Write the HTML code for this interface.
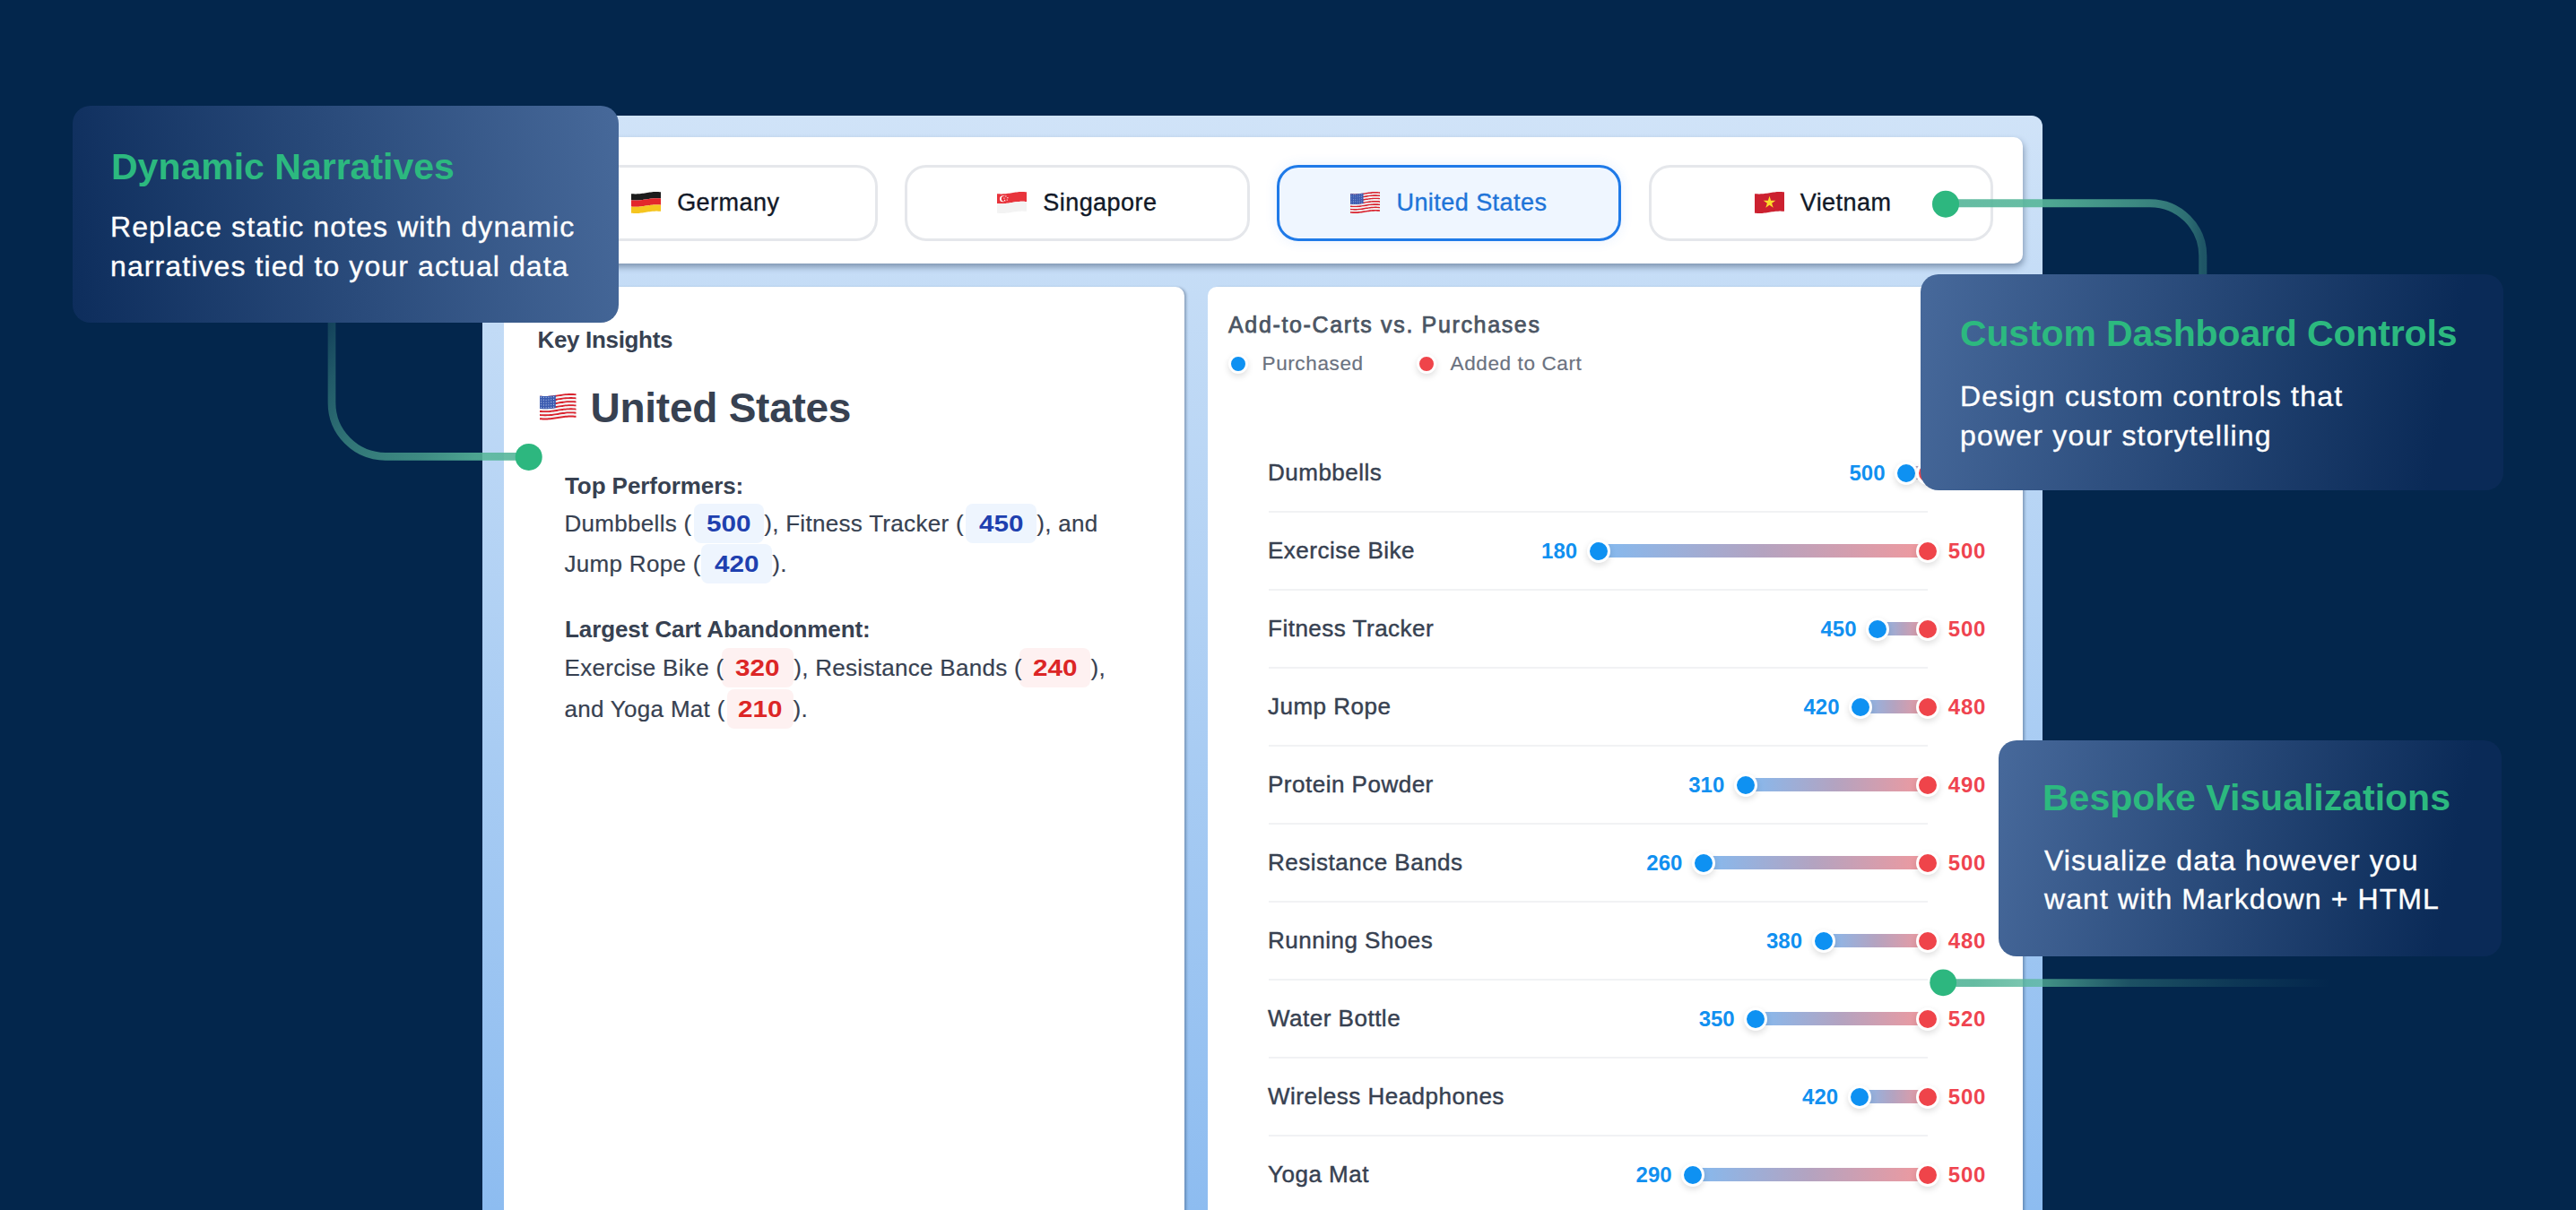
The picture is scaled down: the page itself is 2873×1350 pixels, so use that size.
<!DOCTYPE html><html><head><meta charset="utf-8"><style>
*{box-sizing:border-box;margin:0;padding:0}
html,body{width:2873px;height:1350px;overflow:hidden;background:#03264c;font-family:"Liberation Sans",sans-serif}
.a{position:absolute;white-space:nowrap}
#frame{left:538px;top:129px;width:1740px;height:1300px;border-radius:12px;background:linear-gradient(180deg,#d0e3f8 0px,#c4dcf6 200px,#8dbcf0 1221px)}
#card{left:561px;top:153.3px;width:1695px;height:141px;background:#fff;border-radius:10px;box-shadow:1px 4px 7px rgba(30,50,80,.42)}
.tab{position:absolute;top:184px;height:85px;border:3.5px solid #e5e7eb;border-radius:24px;background:#fff;font-size:27px;color:#111827;letter-spacing:.45px;-webkit-text-stroke:.35px currentColor;display:flex;align-items:center;justify-content:center;white-space:nowrap}
.tab.sel{border-color:#1f7ae8;background:#eff6ff;color:#1f74d8;box-shadow:0 0 14px rgba(59,130,246,.12)}
.tab svg{margin-right:18px;margin-top:-2px}
.pan{background:#fff;border-radius:10px;box-shadow:3px 0 3px -1px rgba(30,50,80,.35)}
.call{position:absolute;border-radius:20px}
.call h2{position:absolute;font-weight:bold;font-size:41px;color:#2cb97f;white-space:nowrap;line-height:50px}
.call p{position:absolute;font-size:32px;color:#fff;line-height:43.5px;white-space:nowrap;-webkit-text-stroke:.35px #fff}
.kt{font-size:26px;color:#374151;line-height:30px}
.pill{position:absolute;height:44px;border-radius:8px;font-weight:bold;font-size:26px;line-height:44px;text-align:center}.pill span{display:inline-block;transform:scaleX(1.14)}
.pb{background:#eef5fe;color:#1e40af}
.pr{background:#fef1f1;color:#dc2626}
.lbl{font-size:26px;color:#374151;line-height:30px}
.div{position:absolute;left:1415px;width:735px;height:2px;background:#f1f2f4}
.bar{position:absolute;height:15px;background:linear-gradient(90deg,#84baf0,#b4a3c0 50%,#f0999e)}
.dot{position:absolute;width:26px;height:26px;border-radius:50%;border:3.5px solid #fff;box-shadow:0 3px 7px rgba(0,0,0,.13)}
.db{background:#0e91f2}.dr{background:#ef444a}
.nb{font-size:24px;font-weight:bold;color:#1190f0;line-height:28px}
.nr{font-size:24px;font-weight:bold;color:#ef4450;line-height:28px;letter-spacing:.8px}
</style></head><body>
<div id="frame" class="a"></div>
<div id="card" class="a"></div>
<div class="tab" style="left:594.5px;width:384.5px;"><svg width="33" height="24" viewBox="0 0 33 24" style="display:block"><path d="M0.00 2.14 L1.38 2.26 L2.75 2.35 L4.12 2.39 L5.50 2.40 L6.88 2.36 L8.25 2.28 L9.62 2.17 L11.00 2.02 L12.38 1.84 L13.75 1.64 L15.12 1.42 L16.50 1.20 L17.88 0.98 L19.25 0.76 L20.62 0.56 L22.00 0.38 L23.38 0.23 L24.75 0.12 L26.12 0.04 L27.50 0.00 L28.88 0.01 L30.25 0.05 L31.62 0.14 L33.00 0.26 L33.00 7.46 L31.62 7.34 L30.25 7.25 L28.88 7.21 L27.50 7.20 L26.12 7.24 L24.75 7.32 L23.38 7.43 L22.00 7.58 L20.62 7.76 L19.25 7.96 L17.88 8.18 L16.50 8.40 L15.12 8.62 L13.75 8.84 L12.38 9.04 L11.00 9.22 L9.62 9.37 L8.25 9.48 L6.88 9.56 L5.50 9.60 L4.12 9.59 L2.75 9.55 L1.38 9.46 L0.00 9.34Z" fill="#1c1c1c"/><path d="M0.00 9.34 L1.38 9.46 L2.75 9.55 L4.12 9.59 L5.50 9.60 L6.88 9.56 L8.25 9.48 L9.62 9.37 L11.00 9.22 L12.38 9.04 L13.75 8.84 L15.12 8.62 L16.50 8.40 L17.88 8.18 L19.25 7.96 L20.62 7.76 L22.00 7.58 L23.38 7.43 L24.75 7.32 L26.12 7.24 L27.50 7.20 L28.88 7.21 L30.25 7.25 L31.62 7.34 L33.00 7.46 L33.00 14.66 L31.62 14.54 L30.25 14.45 L28.88 14.41 L27.50 14.40 L26.12 14.44 L24.75 14.52 L23.38 14.63 L22.00 14.78 L20.62 14.96 L19.25 15.16 L17.88 15.38 L16.50 15.60 L15.12 15.82 L13.75 16.04 L12.38 16.24 L11.00 16.42 L9.62 16.57 L8.25 16.68 L6.88 16.76 L5.50 16.80 L4.12 16.79 L2.75 16.75 L1.38 16.66 L0.00 16.54Z" fill="#e3262b"/><path d="M0.00 16.54 L1.38 16.66 L2.75 16.75 L4.12 16.79 L5.50 16.80 L6.88 16.76 L8.25 16.68 L9.62 16.57 L11.00 16.42 L12.38 16.24 L13.75 16.04 L15.12 15.82 L16.50 15.60 L17.88 15.38 L19.25 15.16 L20.62 14.96 L22.00 14.78 L23.38 14.63 L24.75 14.52 L26.12 14.44 L27.50 14.40 L28.88 14.41 L30.25 14.45 L31.62 14.54 L33.00 14.66 L33.00 21.86 L31.62 21.74 L30.25 21.65 L28.88 21.61 L27.50 21.60 L26.12 21.64 L24.75 21.72 L23.38 21.83 L22.00 21.98 L20.62 22.16 L19.25 22.36 L17.88 22.58 L16.50 22.80 L15.12 23.02 L13.75 23.24 L12.38 23.44 L11.00 23.62 L9.62 23.77 L8.25 23.88 L6.88 23.96 L5.50 24.00 L4.12 23.99 L2.75 23.95 L1.38 23.86 L0.00 23.74Z" fill="#f5c51f"/></svg><span>Germany</span></div>
<div class="tab" style="left:1009.1px;width:384.5px;"><svg width="33" height="24" viewBox="0 0 33 24" style="display:block"><path d="M0.00 2.14 L1.38 2.26 L2.75 2.35 L4.12 2.39 L5.50 2.40 L6.88 2.36 L8.25 2.28 L9.62 2.17 L11.00 2.02 L12.38 1.84 L13.75 1.64 L15.12 1.42 L16.50 1.20 L17.88 0.98 L19.25 0.76 L20.62 0.56 L22.00 0.38 L23.38 0.23 L24.75 0.12 L26.12 0.04 L27.50 0.00 L28.88 0.01 L30.25 0.05 L31.62 0.14 L33.00 0.26 L33.00 11.06 L31.62 10.94 L30.25 10.85 L28.88 10.81 L27.50 10.80 L26.12 10.84 L24.75 10.92 L23.38 11.03 L22.00 11.18 L20.62 11.36 L19.25 11.56 L17.88 11.78 L16.50 12.00 L15.12 12.22 L13.75 12.44 L12.38 12.64 L11.00 12.82 L9.62 12.97 L8.25 13.08 L6.88 13.16 L5.50 13.20 L4.12 13.19 L2.75 13.15 L1.38 13.06 L0.00 12.94Z" fill="#e8343c"/><path d="M0.00 12.94 L1.38 13.06 L2.75 13.15 L4.12 13.19 L5.50 13.20 L6.88 13.16 L8.25 13.08 L9.62 12.97 L11.00 12.82 L12.38 12.64 L13.75 12.44 L15.12 12.22 L16.50 12.00 L17.88 11.78 L19.25 11.56 L20.62 11.36 L22.00 11.18 L23.38 11.03 L24.75 10.92 L26.12 10.84 L27.50 10.80 L28.88 10.81 L30.25 10.85 L31.62 10.94 L33.00 11.06 L33.00 21.86 L31.62 21.74 L30.25 21.65 L28.88 21.61 L27.50 21.60 L26.12 21.64 L24.75 21.72 L23.38 21.83 L22.00 21.98 L20.62 22.16 L19.25 22.36 L17.88 22.58 L16.50 22.80 L15.12 23.02 L13.75 23.24 L12.38 23.44 L11.00 23.62 L9.62 23.77 L8.25 23.88 L6.88 23.96 L5.50 24.00 L4.12 23.99 L2.75 23.95 L1.38 23.86 L0.00 23.74Z" fill="#f3f3f3"/><circle cx="6.60" cy="7.77" r="3.60" fill="#fff"/><circle cx="7.86" cy="7.77" r="3.06" fill="#e8343c"/><circle cx="9.90" cy="4.95" r="0.67" fill="#fff"/><circle cx="11.88" cy="6.66" r="0.67" fill="#fff"/><circle cx="11.22" cy="9.12" r="0.67" fill="#fff"/><circle cx="8.58" cy="9.38" r="0.67" fill="#fff"/><circle cx="7.92" cy="7.06" r="0.67" fill="#fff"/></svg><span>Singapore</span></div>
<div class="tab sel" style="left:1423.7px;width:384.5px;"><svg width="33" height="24" viewBox="0 0 33 24" style="display:block"><path d="M0.00 2.14 L1.38 2.26 L2.75 2.35 L4.12 2.39 L5.50 2.40 L6.88 2.36 L8.25 2.28 L9.62 2.17 L11.00 2.02 L12.38 1.84 L13.75 1.64 L15.12 1.42 L16.50 1.20 L17.88 0.98 L19.25 0.76 L20.62 0.56 L22.00 0.38 L23.38 0.23 L24.75 0.12 L26.12 0.04 L27.50 0.00 L28.88 0.01 L30.25 0.05 L31.62 0.14 L33.00 0.26 L33.00 1.92 L31.62 1.80 L30.25 1.71 L28.88 1.67 L27.50 1.66 L26.12 1.70 L24.75 1.78 L23.38 1.90 L22.00 2.05 L20.62 2.22 L19.25 2.42 L17.88 2.64 L16.50 2.86 L15.12 3.08 L13.75 3.30 L12.38 3.50 L11.00 3.68 L9.62 3.83 L8.25 3.94 L6.88 4.02 L5.50 4.06 L4.12 4.05 L2.75 4.01 L1.38 3.92 L0.00 3.80Z" fill="#d9232e"/><path d="M0.00 3.80 L1.38 3.92 L2.75 4.01 L4.12 4.05 L5.50 4.06 L6.88 4.02 L8.25 3.94 L9.62 3.83 L11.00 3.68 L12.38 3.50 L13.75 3.30 L15.12 3.08 L16.50 2.86 L17.88 2.64 L19.25 2.42 L20.62 2.22 L22.00 2.05 L23.38 1.90 L24.75 1.78 L26.12 1.70 L27.50 1.66 L28.88 1.67 L30.25 1.71 L31.62 1.80 L33.00 1.92 L33.00 3.58 L31.62 3.46 L30.25 3.38 L28.88 3.33 L27.50 3.33 L26.12 3.36 L24.75 3.44 L23.38 3.56 L22.00 3.71 L20.62 3.88 L19.25 4.08 L17.88 4.30 L16.50 4.52 L15.12 4.75 L13.75 4.96 L12.38 5.16 L11.00 5.34 L9.62 5.49 L8.25 5.60 L6.88 5.68 L5.50 5.72 L4.12 5.72 L2.75 5.67 L1.38 5.58 L0.00 5.46Z" fill="#f4f6f6"/><path d="M0.00 5.46 L1.38 5.58 L2.75 5.67 L4.12 5.72 L5.50 5.72 L6.88 5.68 L8.25 5.60 L9.62 5.49 L11.00 5.34 L12.38 5.16 L13.75 4.96 L15.12 4.75 L16.50 4.52 L17.88 4.30 L19.25 4.08 L20.62 3.88 L22.00 3.71 L23.38 3.56 L24.75 3.44 L26.12 3.36 L27.50 3.33 L28.88 3.33 L30.25 3.38 L31.62 3.46 L33.00 3.58 L33.00 5.25 L31.62 5.12 L30.25 5.04 L28.88 4.99 L27.50 4.99 L26.12 5.03 L24.75 5.10 L23.38 5.22 L22.00 5.37 L20.62 5.55 L19.25 5.75 L17.88 5.96 L16.50 6.18 L15.12 6.41 L13.75 6.62 L12.38 6.82 L11.00 7.00 L9.62 7.15 L8.25 7.27 L6.88 7.34 L5.50 7.38 L4.12 7.38 L2.75 7.33 L1.38 7.25 L0.00 7.12Z" fill="#d9232e"/><path d="M0.00 7.12 L1.38 7.25 L2.75 7.33 L4.12 7.38 L5.50 7.38 L6.88 7.34 L8.25 7.27 L9.62 7.15 L11.00 7.00 L12.38 6.82 L13.75 6.62 L15.12 6.41 L16.50 6.18 L17.88 5.96 L19.25 5.75 L20.62 5.55 L22.00 5.37 L23.38 5.22 L24.75 5.10 L26.12 5.03 L27.50 4.99 L28.88 4.99 L30.25 5.04 L31.62 5.12 L33.00 5.25 L33.00 6.91 L31.62 6.79 L30.25 6.70 L28.88 6.65 L27.50 6.65 L26.12 6.69 L24.75 6.76 L23.38 6.88 L22.00 7.03 L20.62 7.21 L19.25 7.41 L17.88 7.62 L16.50 7.85 L15.12 8.07 L13.75 8.28 L12.38 8.48 L11.00 8.66 L9.62 8.81 L8.25 8.93 L6.88 9.01 L5.50 9.04 L4.12 9.04 L2.75 8.99 L1.38 8.91 L0.00 8.78Z" fill="#f4f6f6"/><path d="M0.00 8.78 L1.38 8.91 L2.75 8.99 L4.12 9.04 L5.50 9.04 L6.88 9.01 L8.25 8.93 L9.62 8.81 L11.00 8.66 L12.38 8.48 L13.75 8.28 L15.12 8.07 L16.50 7.85 L17.88 7.62 L19.25 7.41 L20.62 7.21 L22.00 7.03 L23.38 6.88 L24.75 6.76 L26.12 6.69 L27.50 6.65 L28.88 6.65 L30.25 6.70 L31.62 6.79 L33.00 6.91 L33.00 8.57 L31.62 8.45 L30.25 8.36 L28.88 8.32 L27.50 8.31 L26.12 8.35 L24.75 8.43 L23.38 8.54 L22.00 8.69 L20.62 8.87 L19.25 9.07 L17.88 9.28 L16.50 9.51 L15.12 9.73 L13.75 9.95 L12.38 10.15 L11.00 10.32 L9.62 10.47 L8.25 10.59 L6.88 10.67 L5.50 10.70 L4.12 10.70 L2.75 10.65 L1.38 10.57 L0.00 10.45Z" fill="#d9232e"/><path d="M0.00 10.45 L1.38 10.57 L2.75 10.65 L4.12 10.70 L5.50 10.70 L6.88 10.67 L8.25 10.59 L9.62 10.47 L11.00 10.32 L12.38 10.15 L13.75 9.95 L15.12 9.73 L16.50 9.51 L17.88 9.28 L19.25 9.07 L20.62 8.87 L22.00 8.69 L23.38 8.54 L24.75 8.43 L26.12 8.35 L27.50 8.31 L28.88 8.32 L30.25 8.36 L31.62 8.45 L33.00 8.57 L33.00 10.23 L31.62 10.11 L30.25 10.02 L28.88 9.98 L27.50 9.97 L26.12 10.01 L24.75 10.09 L23.38 10.20 L22.00 10.35 L20.62 10.53 L19.25 10.73 L17.88 10.95 L16.50 11.17 L15.12 11.39 L13.75 11.61 L12.38 11.81 L11.00 11.99 L9.62 12.13 L8.25 12.25 L6.88 12.33 L5.50 12.37 L4.12 12.36 L2.75 12.32 L1.38 12.23 L0.00 12.11Z" fill="#f4f6f6"/><path d="M0.00 12.11 L1.38 12.23 L2.75 12.32 L4.12 12.36 L5.50 12.37 L6.88 12.33 L8.25 12.25 L9.62 12.13 L11.00 11.99 L12.38 11.81 L13.75 11.61 L15.12 11.39 L16.50 11.17 L17.88 10.95 L19.25 10.73 L20.62 10.53 L22.00 10.35 L23.38 10.20 L24.75 10.09 L26.12 10.01 L27.50 9.97 L28.88 9.98 L30.25 10.02 L31.62 10.11 L33.00 10.23 L33.00 11.89 L31.62 11.77 L30.25 11.68 L28.88 11.64 L27.50 11.63 L26.12 11.67 L24.75 11.75 L23.38 11.87 L22.00 12.01 L20.62 12.19 L19.25 12.39 L17.88 12.61 L16.50 12.83 L15.12 13.05 L13.75 13.27 L12.38 13.47 L11.00 13.65 L9.62 13.80 L8.25 13.91 L6.88 13.99 L5.50 14.03 L4.12 14.02 L2.75 13.98 L1.38 13.89 L0.00 13.77Z" fill="#d9232e"/><path d="M0.00 13.77 L1.38 13.89 L2.75 13.98 L4.12 14.02 L5.50 14.03 L6.88 13.99 L8.25 13.91 L9.62 13.80 L11.00 13.65 L12.38 13.47 L13.75 13.27 L15.12 13.05 L16.50 12.83 L17.88 12.61 L19.25 12.39 L20.62 12.19 L22.00 12.01 L23.38 11.87 L24.75 11.75 L26.12 11.67 L27.50 11.63 L28.88 11.64 L30.25 11.68 L31.62 11.77 L33.00 11.89 L33.00 13.55 L31.62 13.43 L30.25 13.35 L28.88 13.30 L27.50 13.30 L26.12 13.33 L24.75 13.41 L23.38 13.53 L22.00 13.68 L20.62 13.85 L19.25 14.05 L17.88 14.27 L16.50 14.49 L15.12 14.72 L13.75 14.93 L12.38 15.13 L11.00 15.31 L9.62 15.46 L8.25 15.57 L6.88 15.65 L5.50 15.69 L4.12 15.68 L2.75 15.64 L1.38 15.55 L0.00 15.43Z" fill="#f4f6f6"/><path d="M0.00 15.43 L1.38 15.55 L2.75 15.64 L4.12 15.68 L5.50 15.69 L6.88 15.65 L8.25 15.57 L9.62 15.46 L11.00 15.31 L12.38 15.13 L13.75 14.93 L15.12 14.72 L16.50 14.49 L17.88 14.27 L19.25 14.05 L20.62 13.85 L22.00 13.68 L23.38 13.53 L24.75 13.41 L26.12 13.33 L27.50 13.30 L28.88 13.30 L30.25 13.35 L31.62 13.43 L33.00 13.55 L33.00 15.22 L31.62 15.09 L30.25 15.01 L28.88 14.96 L27.50 14.96 L26.12 14.99 L24.75 15.07 L23.38 15.19 L22.00 15.34 L20.62 15.52 L19.25 15.72 L17.88 15.93 L16.50 16.15 L15.12 16.38 L13.75 16.59 L12.38 16.79 L11.00 16.97 L9.62 17.12 L8.25 17.24 L6.88 17.31 L5.50 17.35 L4.12 17.35 L2.75 17.30 L1.38 17.21 L0.00 17.09Z" fill="#d9232e"/><path d="M0.00 17.09 L1.38 17.21 L2.75 17.30 L4.12 17.35 L5.50 17.35 L6.88 17.31 L8.25 17.24 L9.62 17.12 L11.00 16.97 L12.38 16.79 L13.75 16.59 L15.12 16.38 L16.50 16.15 L17.88 15.93 L19.25 15.72 L20.62 15.52 L22.00 15.34 L23.38 15.19 L24.75 15.07 L26.12 14.99 L27.50 14.96 L28.88 14.96 L30.25 15.01 L31.62 15.09 L33.00 15.22 L33.00 16.88 L31.62 16.75 L30.25 16.67 L28.88 16.62 L27.50 16.62 L26.12 16.66 L24.75 16.73 L23.38 16.85 L22.00 17.00 L20.62 17.18 L19.25 17.38 L17.88 17.59 L16.50 17.82 L15.12 18.04 L13.75 18.25 L12.38 18.45 L11.00 18.63 L9.62 18.78 L8.25 18.90 L6.88 18.97 L5.50 19.01 L4.12 19.01 L2.75 18.96 L1.38 18.88 L0.00 18.75Z" fill="#f4f6f6"/><path d="M0.00 18.75 L1.38 18.88 L2.75 18.96 L4.12 19.01 L5.50 19.01 L6.88 18.97 L8.25 18.90 L9.62 18.78 L11.00 18.63 L12.38 18.45 L13.75 18.25 L15.12 18.04 L16.50 17.82 L17.88 17.59 L19.25 17.38 L20.62 17.18 L22.00 17.00 L23.38 16.85 L24.75 16.73 L26.12 16.66 L27.50 16.62 L28.88 16.62 L30.25 16.67 L31.62 16.75 L33.00 16.88 L33.00 18.54 L31.62 18.42 L30.25 18.33 L28.88 18.28 L27.50 18.28 L26.12 18.32 L24.75 18.40 L23.38 18.51 L22.00 18.66 L20.62 18.84 L19.25 19.04 L17.88 19.25 L16.50 19.48 L15.12 19.70 L13.75 19.92 L12.38 20.12 L11.00 20.29 L9.62 20.44 L8.25 20.56 L6.88 20.64 L5.50 20.67 L4.12 20.67 L2.75 20.62 L1.38 20.54 L0.00 20.42Z" fill="#d9232e"/><path d="M0.00 20.42 L1.38 20.54 L2.75 20.62 L4.12 20.67 L5.50 20.67 L6.88 20.64 L8.25 20.56 L9.62 20.44 L11.00 20.29 L12.38 20.12 L13.75 19.92 L15.12 19.70 L16.50 19.48 L17.88 19.25 L19.25 19.04 L20.62 18.84 L22.00 18.66 L23.38 18.51 L24.75 18.40 L26.12 18.32 L27.50 18.28 L28.88 18.28 L30.25 18.33 L31.62 18.42 L33.00 18.54 L33.00 20.20 L31.62 20.08 L30.25 19.99 L28.88 19.95 L27.50 19.94 L26.12 19.98 L24.75 20.06 L23.38 20.17 L22.00 20.32 L20.62 20.50 L19.25 20.70 L17.88 20.92 L16.50 21.14 L15.12 21.36 L13.75 21.58 L12.38 21.78 L11.00 21.95 L9.62 22.10 L8.25 22.22 L6.88 22.30 L5.50 22.34 L4.12 22.33 L2.75 22.29 L1.38 22.20 L0.00 22.08Z" fill="#f4f6f6"/><path d="M0.00 22.08 L1.38 22.20 L2.75 22.29 L4.12 22.33 L5.50 22.34 L6.88 22.30 L8.25 22.22 L9.62 22.10 L11.00 21.95 L12.38 21.78 L13.75 21.58 L15.12 21.36 L16.50 21.14 L17.88 20.92 L19.25 20.70 L20.62 20.50 L22.00 20.32 L23.38 20.17 L24.75 20.06 L26.12 19.98 L27.50 19.94 L28.88 19.95 L30.25 19.99 L31.62 20.08 L33.00 20.20 L33.00 21.86 L31.62 21.74 L30.25 21.65 L28.88 21.61 L27.50 21.60 L26.12 21.64 L24.75 21.72 L23.38 21.83 L22.00 21.98 L20.62 22.16 L19.25 22.36 L17.88 22.58 L16.50 22.80 L15.12 23.02 L13.75 23.24 L12.38 23.44 L11.00 23.62 L9.62 23.77 L8.25 23.88 L6.88 23.96 L5.50 24.00 L4.12 23.99 L2.75 23.95 L1.38 23.86 L0.00 23.74Z" fill="#d9232e"/><path d="M0.00 2.14 L1.45 2.27 L2.90 2.35 L4.36 2.40 L5.81 2.39 L7.26 2.34 L8.71 2.25 L10.16 2.11 L11.62 1.94 L13.07 1.74 L14.52 1.52 L14.52 13.15 L13.07 13.37 L11.62 13.57 L10.16 13.74 L8.71 13.88 L7.26 13.97 L5.81 14.02 L4.36 14.03 L2.90 13.98 L1.45 13.90 L0.00 13.77Z" fill="#3b5bb0"/><circle cx="1.16" cy="3.41" r="0.48" fill="#c9d6f0"/><circle cx="3.47" cy="3.54" r="0.48" fill="#c9d6f0"/><circle cx="5.78" cy="3.56" r="0.48" fill="#c9d6f0"/><circle cx="8.09" cy="3.46" r="0.48" fill="#c9d6f0"/><circle cx="10.40" cy="3.25" r="0.48" fill="#c9d6f0"/><circle cx="12.71" cy="2.96" r="0.48" fill="#c9d6f0"/><circle cx="1.16" cy="5.73" r="0.48" fill="#c9d6f0"/><circle cx="3.47" cy="5.86" r="0.48" fill="#c9d6f0"/><circle cx="5.78" cy="5.88" r="0.48" fill="#c9d6f0"/><circle cx="8.09" cy="5.78" r="0.48" fill="#c9d6f0"/><circle cx="10.40" cy="5.57" r="0.48" fill="#c9d6f0"/><circle cx="12.71" cy="5.28" r="0.48" fill="#c9d6f0"/><circle cx="1.16" cy="8.06" r="0.48" fill="#c9d6f0"/><circle cx="3.47" cy="8.19" r="0.48" fill="#c9d6f0"/><circle cx="5.78" cy="8.21" r="0.48" fill="#c9d6f0"/><circle cx="8.09" cy="8.11" r="0.48" fill="#c9d6f0"/><circle cx="10.40" cy="7.90" r="0.48" fill="#c9d6f0"/><circle cx="12.71" cy="7.61" r="0.48" fill="#c9d6f0"/><circle cx="1.16" cy="10.39" r="0.48" fill="#c9d6f0"/><circle cx="3.47" cy="10.52" r="0.48" fill="#c9d6f0"/><circle cx="5.78" cy="10.53" r="0.48" fill="#c9d6f0"/><circle cx="8.09" cy="10.43" r="0.48" fill="#c9d6f0"/><circle cx="10.40" cy="10.23" r="0.48" fill="#c9d6f0"/><circle cx="12.71" cy="9.93" r="0.48" fill="#c9d6f0"/><circle cx="1.16" cy="12.71" r="0.48" fill="#c9d6f0"/><circle cx="3.47" cy="12.84" r="0.48" fill="#c9d6f0"/><circle cx="5.78" cy="12.86" r="0.48" fill="#c9d6f0"/><circle cx="8.09" cy="12.76" r="0.48" fill="#c9d6f0"/><circle cx="10.40" cy="12.55" r="0.48" fill="#c9d6f0"/><circle cx="12.71" cy="12.26" r="0.48" fill="#c9d6f0"/></svg><span>United States</span></div>
<div class="tab" style="left:1838.8px;width:384.5px;padding-left:4px;"><svg width="33" height="24" viewBox="0 0 33 24" style="display:block"><path d="M0.00 2.14 L1.38 2.26 L2.75 2.35 L4.12 2.39 L5.50 2.40 L6.88 2.36 L8.25 2.28 L9.62 2.17 L11.00 2.02 L12.38 1.84 L13.75 1.64 L15.12 1.42 L16.50 1.20 L17.88 0.98 L19.25 0.76 L20.62 0.56 L22.00 0.38 L23.38 0.23 L24.75 0.12 L26.12 0.04 L27.50 0.00 L28.88 0.01 L30.25 0.05 L31.62 0.14 L33.00 0.26 L33.00 21.86 L31.62 21.74 L30.25 21.65 L28.88 21.61 L27.50 21.60 L26.12 21.64 L24.75 21.72 L23.38 21.83 L22.00 21.98 L20.62 22.16 L19.25 22.36 L17.88 22.58 L16.50 22.80 L15.12 23.02 L13.75 23.24 L12.38 23.44 L11.00 23.62 L9.62 23.77 L8.25 23.88 L6.88 23.96 L5.50 24.00 L4.12 23.99 L2.75 23.95 L1.38 23.86 L0.00 23.74Z" fill="#cc2130"/><path d="M16.50 4.80 L18.11 9.79 L23.35 9.78 L19.10 12.85 L20.73 17.82 L16.50 14.74 L12.27 17.82 L13.90 12.85 L9.65 9.78 L14.89 9.79Z" fill="#fbdc2c"/></svg><span>Vietnam</span></div>
<div class="a pan" style="left:562px;top:320px;width:759px;height:1100px"></div>
<div class="a pan" style="left:1347px;top:320px;width:909px;height:1100px"></div>
<div class="a" style="left:599.5px;top:363.6px;font-size:26px;line-height:30px;font-weight:bold;color:#374151;letter-spacing:-.33px">Key Insights</div>
<div class="a" style="left:602px;top:439.4px"><svg width="40.5" height="29.5" viewBox="0 0 40.5 29.5" style="display:block"><path d="M0.00 2.63 L1.69 2.78 L3.38 2.88 L5.06 2.94 L6.75 2.95 L8.44 2.90 L10.12 2.80 L11.81 2.66 L13.50 2.48 L15.19 2.26 L16.88 2.01 L18.56 1.75 L20.25 1.48 L21.94 1.20 L23.62 0.94 L25.31 0.69 L27.00 0.47 L28.69 0.29 L30.38 0.15 L32.06 0.05 L33.75 0.00 L35.44 0.01 L37.12 0.07 L38.81 0.17 L40.50 0.32 L40.50 2.36 L38.81 2.21 L37.12 2.11 L35.44 2.05 L33.75 2.05 L32.06 2.09 L30.38 2.19 L28.69 2.33 L27.00 2.51 L25.31 2.73 L23.62 2.98 L21.94 3.24 L20.25 3.52 L18.56 3.79 L16.88 4.06 L15.19 4.30 L13.50 4.52 L11.81 4.70 L10.12 4.85 L8.44 4.94 L6.75 4.99 L5.06 4.98 L3.38 4.93 L1.69 4.82 L0.00 4.67Z" fill="#d9232e"/><path d="M0.00 4.67 L1.69 4.82 L3.38 4.93 L5.06 4.98 L6.75 4.99 L8.44 4.94 L10.12 4.85 L11.81 4.70 L13.50 4.52 L15.19 4.30 L16.88 4.06 L18.56 3.79 L20.25 3.52 L21.94 3.24 L23.62 2.98 L25.31 2.73 L27.00 2.51 L28.69 2.33 L30.38 2.19 L32.06 2.09 L33.75 2.05 L35.44 2.05 L37.12 2.11 L38.81 2.21 L40.50 2.36 L40.50 4.41 L38.81 4.26 L37.12 4.15 L35.44 4.09 L33.75 4.09 L32.06 4.13 L30.38 4.23 L28.69 4.37 L27.00 4.56 L25.31 4.77 L23.62 5.02 L21.94 5.29 L20.25 5.56 L18.56 5.83 L16.88 6.10 L15.19 6.34 L13.50 6.56 L11.81 6.75 L10.12 6.89 L8.44 6.98 L6.75 7.03 L5.06 7.03 L3.38 6.97 L1.69 6.86 L0.00 6.71Z" fill="#f4f6f6"/><path d="M0.00 6.71 L1.69 6.86 L3.38 6.97 L5.06 7.03 L6.75 7.03 L8.44 6.98 L10.12 6.89 L11.81 6.75 L13.50 6.56 L15.19 6.34 L16.88 6.10 L18.56 5.83 L20.25 5.56 L21.94 5.29 L23.62 5.02 L25.31 4.77 L27.00 4.56 L28.69 4.37 L30.38 4.23 L32.06 4.13 L33.75 4.09 L35.44 4.09 L37.12 4.15 L38.81 4.26 L40.50 4.41 L40.50 6.45 L38.81 6.30 L37.12 6.19 L35.44 6.14 L33.75 6.13 L32.06 6.18 L30.38 6.27 L28.69 6.42 L27.00 6.60 L25.31 6.82 L23.62 7.06 L21.94 7.33 L20.25 7.60 L18.56 7.88 L16.88 8.14 L15.19 8.39 L13.50 8.61 L11.81 8.79 L10.12 8.93 L8.44 9.03 L6.75 9.07 L5.06 9.07 L3.38 9.01 L1.69 8.91 L0.00 8.76Z" fill="#d9232e"/><path d="M0.00 8.76 L1.69 8.91 L3.38 9.01 L5.06 9.07 L6.75 9.07 L8.44 9.03 L10.12 8.93 L11.81 8.79 L13.50 8.61 L15.19 8.39 L16.88 8.14 L18.56 7.88 L20.25 7.60 L21.94 7.33 L23.62 7.06 L25.31 6.82 L27.00 6.60 L28.69 6.42 L30.38 6.27 L32.06 6.18 L33.75 6.13 L35.44 6.14 L37.12 6.19 L38.81 6.30 L40.50 6.45 L40.50 8.49 L38.81 8.34 L37.12 8.23 L35.44 8.18 L33.75 8.17 L32.06 8.22 L30.38 8.32 L28.69 8.46 L27.00 8.64 L25.31 8.86 L23.62 9.11 L21.94 9.37 L20.25 9.64 L18.56 9.92 L16.88 10.18 L15.19 10.43 L13.50 10.65 L11.81 10.83 L10.12 10.97 L8.44 11.07 L6.75 11.12 L5.06 11.11 L3.38 11.05 L1.69 10.95 L0.00 10.80Z" fill="#f4f6f6"/><path d="M0.00 10.80 L1.69 10.95 L3.38 11.05 L5.06 11.11 L6.75 11.12 L8.44 11.07 L10.12 10.97 L11.81 10.83 L13.50 10.65 L15.19 10.43 L16.88 10.18 L18.56 9.92 L20.25 9.64 L21.94 9.37 L23.62 9.11 L25.31 8.86 L27.00 8.64 L28.69 8.46 L30.38 8.32 L32.06 8.22 L33.75 8.17 L35.44 8.18 L37.12 8.23 L38.81 8.34 L40.50 8.49 L40.50 10.53 L38.81 10.38 L37.12 10.28 L35.44 10.22 L33.75 10.22 L32.06 10.26 L30.38 10.36 L28.69 10.50 L27.00 10.68 L25.31 10.90 L23.62 11.15 L21.94 11.41 L20.25 11.69 L18.56 11.96 L16.88 12.23 L15.19 12.47 L13.50 12.69 L11.81 12.87 L10.12 13.02 L8.44 13.11 L6.75 13.16 L5.06 13.15 L3.38 13.10 L1.69 12.99 L0.00 12.84Z" fill="#d9232e"/><path d="M0.00 12.84 L1.69 12.99 L3.38 13.10 L5.06 13.15 L6.75 13.16 L8.44 13.11 L10.12 13.02 L11.81 12.87 L13.50 12.69 L15.19 12.47 L16.88 12.23 L18.56 11.96 L20.25 11.69 L21.94 11.41 L23.62 11.15 L25.31 10.90 L27.00 10.68 L28.69 10.50 L30.38 10.36 L32.06 10.26 L33.75 10.22 L35.44 10.22 L37.12 10.28 L38.81 10.38 L40.50 10.53 L40.50 12.58 L38.81 12.42 L37.12 12.32 L35.44 12.26 L33.75 12.26 L32.06 12.30 L30.38 12.40 L28.69 12.54 L27.00 12.73 L25.31 12.94 L23.62 13.19 L21.94 13.45 L20.25 13.73 L18.56 14.00 L16.88 14.27 L15.19 14.51 L13.50 14.73 L11.81 14.92 L10.12 15.06 L8.44 15.15 L6.75 15.20 L5.06 15.19 L3.38 15.14 L1.69 15.03 L0.00 14.88Z" fill="#f4f6f6"/><path d="M0.00 14.88 L1.69 15.03 L3.38 15.14 L5.06 15.19 L6.75 15.20 L8.44 15.15 L10.12 15.06 L11.81 14.92 L13.50 14.73 L15.19 14.51 L16.88 14.27 L18.56 14.00 L20.25 13.73 L21.94 13.45 L23.62 13.19 L25.31 12.94 L27.00 12.73 L28.69 12.54 L30.38 12.40 L32.06 12.30 L33.75 12.26 L35.44 12.26 L37.12 12.32 L38.81 12.42 L40.50 12.58 L40.50 14.62 L38.81 14.47 L37.12 14.36 L35.44 14.31 L33.75 14.30 L32.06 14.35 L30.38 14.44 L28.69 14.58 L27.00 14.77 L25.31 14.99 L23.62 15.23 L21.94 15.50 L20.25 15.77 L18.56 16.05 L16.88 16.31 L15.19 16.56 L13.50 16.77 L11.81 16.96 L10.12 17.10 L8.44 17.20 L6.75 17.24 L5.06 17.24 L3.38 17.18 L1.69 17.08 L0.00 16.92Z" fill="#d9232e"/><path d="M0.00 16.92 L1.69 17.08 L3.38 17.18 L5.06 17.24 L6.75 17.24 L8.44 17.20 L10.12 17.10 L11.81 16.96 L13.50 16.77 L15.19 16.56 L16.88 16.31 L18.56 16.05 L20.25 15.77 L21.94 15.50 L23.62 15.23 L25.31 14.99 L27.00 14.77 L28.69 14.58 L30.38 14.44 L32.06 14.35 L33.75 14.30 L35.44 14.31 L37.12 14.36 L38.81 14.47 L40.50 14.62 L40.50 16.66 L38.81 16.51 L37.12 16.40 L35.44 16.35 L33.75 16.34 L32.06 16.39 L30.38 16.48 L28.69 16.63 L27.00 16.81 L25.31 17.03 L23.62 17.27 L21.94 17.54 L20.25 17.81 L18.56 18.09 L16.88 18.35 L15.19 18.60 L13.50 18.82 L11.81 19.00 L10.12 19.14 L8.44 19.24 L6.75 19.28 L5.06 19.28 L3.38 19.22 L1.69 19.12 L0.00 18.97Z" fill="#f4f6f6"/><path d="M0.00 18.97 L1.69 19.12 L3.38 19.22 L5.06 19.28 L6.75 19.28 L8.44 19.24 L10.12 19.14 L11.81 19.00 L13.50 18.82 L15.19 18.60 L16.88 18.35 L18.56 18.09 L20.25 17.81 L21.94 17.54 L23.62 17.27 L25.31 17.03 L27.00 16.81 L28.69 16.63 L30.38 16.48 L32.06 16.39 L33.75 16.34 L35.44 16.35 L37.12 16.40 L38.81 16.51 L40.50 16.66 L40.50 18.70 L38.81 18.55 L37.12 18.45 L35.44 18.39 L33.75 18.38 L32.06 18.43 L30.38 18.53 L28.69 18.67 L27.00 18.85 L25.31 19.07 L23.62 19.32 L21.94 19.58 L20.25 19.86 L18.56 20.13 L16.88 20.39 L15.19 20.64 L13.50 20.86 L11.81 21.04 L10.12 21.18 L8.44 21.28 L6.75 21.33 L5.06 21.32 L3.38 21.27 L1.69 21.16 L0.00 21.01Z" fill="#d9232e"/><path d="M0.00 21.01 L1.69 21.16 L3.38 21.27 L5.06 21.32 L6.75 21.33 L8.44 21.28 L10.12 21.18 L11.81 21.04 L13.50 20.86 L15.19 20.64 L16.88 20.39 L18.56 20.13 L20.25 19.86 L21.94 19.58 L23.62 19.32 L25.31 19.07 L27.00 18.85 L28.69 18.67 L30.38 18.53 L32.06 18.43 L33.75 18.38 L35.44 18.39 L37.12 18.45 L38.81 18.55 L40.50 18.70 L40.50 20.74 L38.81 20.59 L37.12 20.49 L35.44 20.43 L33.75 20.43 L32.06 20.47 L30.38 20.57 L28.69 20.71 L27.00 20.89 L25.31 21.11 L23.62 21.36 L21.94 21.62 L20.25 21.90 L18.56 22.17 L16.88 22.44 L15.19 22.68 L13.50 22.90 L11.81 23.08 L10.12 23.23 L8.44 23.32 L6.75 23.37 L5.06 23.36 L3.38 23.31 L1.69 23.20 L0.00 23.05Z" fill="#f4f6f6"/><path d="M0.00 23.05 L1.69 23.20 L3.38 23.31 L5.06 23.36 L6.75 23.37 L8.44 23.32 L10.12 23.23 L11.81 23.08 L13.50 22.90 L15.19 22.68 L16.88 22.44 L18.56 22.17 L20.25 21.90 L21.94 21.62 L23.62 21.36 L25.31 21.11 L27.00 20.89 L28.69 20.71 L30.38 20.57 L32.06 20.47 L33.75 20.43 L35.44 20.43 L37.12 20.49 L38.81 20.59 L40.50 20.74 L40.50 22.79 L38.81 22.64 L37.12 22.53 L35.44 22.47 L33.75 22.47 L32.06 22.52 L30.38 22.61 L28.69 22.75 L27.00 22.94 L25.31 23.16 L23.62 23.40 L21.94 23.67 L20.25 23.94 L18.56 24.21 L16.88 24.48 L15.19 24.73 L13.50 24.94 L11.81 25.13 L10.12 25.27 L8.44 25.37 L6.75 25.41 L5.06 25.41 L3.38 25.35 L1.69 25.24 L0.00 25.09Z" fill="#d9232e"/><path d="M0.00 25.09 L1.69 25.24 L3.38 25.35 L5.06 25.41 L6.75 25.41 L8.44 25.37 L10.12 25.27 L11.81 25.13 L13.50 24.94 L15.19 24.73 L16.88 24.48 L18.56 24.21 L20.25 23.94 L21.94 23.67 L23.62 23.40 L25.31 23.16 L27.00 22.94 L28.69 22.75 L30.38 22.61 L32.06 22.52 L33.75 22.47 L35.44 22.47 L37.12 22.53 L38.81 22.64 L40.50 22.79 L40.50 24.83 L38.81 24.68 L37.12 24.57 L35.44 24.52 L33.75 24.51 L32.06 24.56 L30.38 24.65 L28.69 24.80 L27.00 24.98 L25.31 25.20 L23.62 25.44 L21.94 25.71 L20.25 25.98 L18.56 26.26 L16.88 26.52 L15.19 26.77 L13.50 26.99 L11.81 27.17 L10.12 27.31 L8.44 27.41 L6.75 27.45 L5.06 27.45 L3.38 27.39 L1.69 27.29 L0.00 27.14Z" fill="#f4f6f6"/><path d="M0.00 27.14 L1.69 27.29 L3.38 27.39 L5.06 27.45 L6.75 27.45 L8.44 27.41 L10.12 27.31 L11.81 27.17 L13.50 26.99 L15.19 26.77 L16.88 26.52 L18.56 26.26 L20.25 25.98 L21.94 25.71 L23.62 25.44 L25.31 25.20 L27.00 24.98 L28.69 24.80 L30.38 24.65 L32.06 24.56 L33.75 24.51 L35.44 24.52 L37.12 24.57 L38.81 24.68 L40.50 24.83 L40.50 26.87 L38.81 26.72 L37.12 26.62 L35.44 26.56 L33.75 26.55 L32.06 26.60 L30.38 26.70 L28.69 26.84 L27.00 27.02 L25.31 27.24 L23.62 27.49 L21.94 27.75 L20.25 28.03 L18.56 28.30 L16.88 28.56 L15.19 28.81 L13.50 29.03 L11.81 29.21 L10.12 29.35 L8.44 29.45 L6.75 29.50 L5.06 29.49 L3.38 29.43 L1.69 29.33 L0.00 29.18Z" fill="#d9232e"/><path d="M0.00 2.63 L1.78 2.79 L3.56 2.89 L5.35 2.95 L7.13 2.94 L8.91 2.88 L10.69 2.76 L12.47 2.59 L14.26 2.38 L16.04 2.14 L17.82 1.87 L17.82 16.16 L16.04 16.43 L14.26 16.68 L12.47 16.89 L10.69 17.06 L8.91 17.17 L7.13 17.24 L5.35 17.24 L3.56 17.19 L1.78 17.08 L0.00 16.92Z" fill="#3b5bb0"/><circle cx="1.42" cy="4.19" r="0.59" fill="#c9d6f0"/><circle cx="4.25" cy="4.35" r="0.59" fill="#c9d6f0"/><circle cx="7.09" cy="4.37" r="0.59" fill="#c9d6f0"/><circle cx="9.92" cy="4.25" r="0.59" fill="#c9d6f0"/><circle cx="12.76" cy="3.99" r="0.59" fill="#c9d6f0"/><circle cx="15.59" cy="3.63" r="0.59" fill="#c9d6f0"/><circle cx="1.42" cy="7.05" r="0.59" fill="#c9d6f0"/><circle cx="4.25" cy="7.21" r="0.59" fill="#c9d6f0"/><circle cx="7.09" cy="7.23" r="0.59" fill="#c9d6f0"/><circle cx="9.92" cy="7.11" r="0.59" fill="#c9d6f0"/><circle cx="12.76" cy="6.85" r="0.59" fill="#c9d6f0"/><circle cx="15.59" cy="6.49" r="0.59" fill="#c9d6f0"/><circle cx="1.42" cy="9.91" r="0.59" fill="#c9d6f0"/><circle cx="4.25" cy="10.07" r="0.59" fill="#c9d6f0"/><circle cx="7.09" cy="10.09" r="0.59" fill="#c9d6f0"/><circle cx="9.92" cy="9.97" r="0.59" fill="#c9d6f0"/><circle cx="12.76" cy="9.71" r="0.59" fill="#c9d6f0"/><circle cx="15.59" cy="9.35" r="0.59" fill="#c9d6f0"/><circle cx="1.42" cy="12.77" r="0.59" fill="#c9d6f0"/><circle cx="4.25" cy="12.93" r="0.59" fill="#c9d6f0"/><circle cx="7.09" cy="12.95" r="0.59" fill="#c9d6f0"/><circle cx="9.92" cy="12.83" r="0.59" fill="#c9d6f0"/><circle cx="12.76" cy="12.57" r="0.59" fill="#c9d6f0"/><circle cx="15.59" cy="12.21" r="0.59" fill="#c9d6f0"/><circle cx="1.42" cy="15.62" r="0.59" fill="#c9d6f0"/><circle cx="4.25" cy="15.79" r="0.59" fill="#c9d6f0"/><circle cx="7.09" cy="15.81" r="0.59" fill="#c9d6f0"/><circle cx="9.92" cy="15.68" r="0.59" fill="#c9d6f0"/><circle cx="12.76" cy="15.43" r="0.59" fill="#c9d6f0"/><circle cx="15.59" cy="15.07" r="0.59" fill="#c9d6f0"/></svg></div>
<div class="a" style="left:658.5px;top:428.1px;font-size:46px;line-height:54px;font-weight:bold;color:#374151;letter-spacing:-.25px">United States</div>
<div class="a" style="left:630px;top:526.8px;font-size:26px;line-height:30px;font-weight:bold;color:#374151;letter-spacing:-.08px">Top Performers:</div>
<div class="a" style="left:630px;top:687.0px;font-size:26px;line-height:30px;font-weight:bold;color:#374151;letter-spacing:-.09px">Largest Cart Abandonment:</div>
<div class="pill pb" style="left:773.8px;top:561.5px;width:78.0px"><span>500</span></div>
<div class="pill pb" style="left:1077.4px;top:561.5px;width:78.2px"><span>450</span></div>
<div class="a" style="left:629.5px;top:568.5px;font-size:26px;line-height:30px;color:#374151;letter-spacing:.3px;-webkit-text-stroke:.2px #374151">Dumbbells (</div>
<div class="a" style="left:852.2px;top:568.5px;font-size:26px;line-height:30px;color:#374151;letter-spacing:.3px;-webkit-text-stroke:.2px #374151">), Fitness Tracker (</div>
<div class="a" style="left:1156.2px;top:568.5px;font-size:26px;line-height:30px;color:#374151;letter-spacing:.3px;-webkit-text-stroke:.2px #374151">), and</div>
<div class="pill pb" style="left:782px;top:607.4px;width:79.0px"><span>420</span></div>
<div class="a" style="left:629.5px;top:614.4px;font-size:26px;line-height:30px;color:#374151;letter-spacing:.3px;-webkit-text-stroke:.2px #374151">Jump Rope (</div>
<div class="a" style="left:861.3px;top:614.4px;font-size:26px;line-height:30px;color:#374151;letter-spacing:.3px;-webkit-text-stroke:.2px #374151">).</div>
<div class="pill pr" style="left:805px;top:723.0px;width:79.6px"><span>320</span></div>
<div class="pill pr" style="left:1137px;top:723.0px;width:79.0px"><span>240</span></div>
<div class="a" style="left:629.5px;top:730.0px;font-size:26px;line-height:30px;color:#374151;letter-spacing:.3px;-webkit-text-stroke:.2px #374151">Exercise Bike (</div>
<div class="a" style="left:885.2px;top:730.0px;font-size:26px;line-height:30px;color:#374151;letter-spacing:.3px;-webkit-text-stroke:.2px #374151">), Resistance Bands (</div>
<div class="a" style="left:1216.5px;top:730.0px;font-size:26px;line-height:30px;color:#374151;letter-spacing:.3px;-webkit-text-stroke:.2px #374151">),</div>
<div class="pill pr" style="left:811px;top:769.2px;width:73.6px"><span>210</span></div>
<div class="a" style="left:629.5px;top:776.2px;font-size:26px;line-height:30px;color:#374151;letter-spacing:.3px;-webkit-text-stroke:.2px #374151">and Yoga Mat (</div>
<div class="a" style="left:884.5px;top:776.2px;font-size:26px;line-height:30px;color:#374151;letter-spacing:.3px;-webkit-text-stroke:.2px #374151">).</div>
<div class="a" style="left:1370px;top:346.8px;font-size:25px;line-height:30px;color:#4b5563;-webkit-text-stroke:.75px #4b5563;letter-spacing:1.65px">Add-to-Carts vs. Purchases</div>
<div class="dot db a" style="left:1369.7px;top:395.3px;width:22px;height:22px;border-width:3.3px"></div>
<div class="a" style="left:1407.5px;top:391.9px;font-size:22.5px;line-height:28px;color:#6b7280;letter-spacing:.62px;-webkit-text-stroke:.2px #6b7280">Purchased</div>
<div class="dot dr a" style="left:1580px;top:395.3px;width:22px;height:22px;border-width:3.3px"></div>
<div class="a" style="left:1617.5px;top:391.9px;font-size:22.5px;line-height:28px;color:#6b7280;letter-spacing:.62px;-webkit-text-stroke:.2px #6b7280">Added to Cart</div>
<div class="a" style="left:1414px;top:512.0px;font-size:26px;line-height:30px;color:#374151;letter-spacing:.5px;-webkit-text-stroke:.45px #374151">Dumbbells</div>
<div class="div" style="top:570.1px"></div>
<div class="bar" style="left:2126.0px;top:520.1px;width:23.5px"></div>
<div class="dot db" style="left:2113.0px;top:514.6px"></div>
<div class="dot dr" style="left:2136.5px;top:514.6px"></div>
<div class="a nb" style="right:770.5px;top:513.5px">500</div>
<div class="a nr" style="left:2172.8px;top:513.5px">520</div>
<div class="a" style="left:1414px;top:599.0px;font-size:26px;line-height:30px;color:#374151;letter-spacing:.5px;-webkit-text-stroke:.45px #374151">Exercise Bike</div>
<div class="div" style="top:657.1px"></div>
<div class="bar" style="left:1782.6px;top:607.1px;width:366.9px"></div>
<div class="dot db" style="left:1769.6px;top:601.6px"></div>
<div class="dot dr" style="left:2136.5px;top:601.6px"></div>
<div class="a nb" style="right:1113.9px;top:600.5px">180</div>
<div class="a nr" style="left:2172.8px;top:600.5px">500</div>
<div class="a" style="left:1414px;top:686.0px;font-size:26px;line-height:30px;color:#374151;letter-spacing:.5px;-webkit-text-stroke:.45px #374151">Fitness Tracker</div>
<div class="div" style="top:744.1px"></div>
<div class="bar" style="left:2094.0px;top:694.1px;width:55.5px"></div>
<div class="dot db" style="left:2081.0px;top:688.6px"></div>
<div class="dot dr" style="left:2136.5px;top:688.6px"></div>
<div class="a nb" style="right:802.5px;top:687.5px">450</div>
<div class="a nr" style="left:2172.8px;top:687.5px">500</div>
<div class="a" style="left:1414px;top:773.0px;font-size:26px;line-height:30px;color:#374151;letter-spacing:.5px;-webkit-text-stroke:.45px #374151">Jump Rope</div>
<div class="div" style="top:831.1px"></div>
<div class="bar" style="left:2075.0px;top:781.1px;width:74.5px"></div>
<div class="dot db" style="left:2062.0px;top:775.6px"></div>
<div class="dot dr" style="left:2136.5px;top:775.6px"></div>
<div class="a nb" style="right:821.5px;top:774.5px">420</div>
<div class="a nr" style="left:2172.8px;top:774.5px">480</div>
<div class="a" style="left:1414px;top:860.0px;font-size:26px;line-height:30px;color:#374151;letter-spacing:.5px;-webkit-text-stroke:.45px #374151">Protein Powder</div>
<div class="div" style="top:918.1px"></div>
<div class="bar" style="left:1946.8px;top:868.1px;width:202.7px"></div>
<div class="dot db" style="left:1933.8px;top:862.6px"></div>
<div class="dot dr" style="left:2136.5px;top:862.6px"></div>
<div class="a nb" style="right:949.7px;top:861.5px">310</div>
<div class="a nr" style="left:2172.8px;top:861.5px">490</div>
<div class="a" style="left:1414px;top:947.0px;font-size:26px;line-height:30px;color:#374151;letter-spacing:.5px;-webkit-text-stroke:.45px #374151">Resistance Bands</div>
<div class="div" style="top:1005.1px"></div>
<div class="bar" style="left:1899.9px;top:955.1px;width:249.6px"></div>
<div class="dot db" style="left:1886.9px;top:949.6px"></div>
<div class="dot dr" style="left:2136.5px;top:949.6px"></div>
<div class="a nb" style="right:996.6px;top:948.5px">260</div>
<div class="a nr" style="left:2172.8px;top:948.5px">500</div>
<div class="a" style="left:1414px;top:1034.0px;font-size:26px;line-height:30px;color:#374151;letter-spacing:.5px;-webkit-text-stroke:.45px #374151">Running Shoes</div>
<div class="div" style="top:1092.1px"></div>
<div class="bar" style="left:2033.5px;top:1042.1px;width:116.0px"></div>
<div class="dot db" style="left:2020.5px;top:1036.6px"></div>
<div class="dot dr" style="left:2136.5px;top:1036.6px"></div>
<div class="a nb" style="right:863.0px;top:1035.5px">380</div>
<div class="a nr" style="left:2172.8px;top:1035.5px">480</div>
<div class="a" style="left:1414px;top:1121.0px;font-size:26px;line-height:30px;color:#374151;letter-spacing:.5px;-webkit-text-stroke:.45px #374151">Water Bottle</div>
<div class="div" style="top:1179.1px"></div>
<div class="bar" style="left:1958.2px;top:1129.1px;width:191.3px"></div>
<div class="dot db" style="left:1945.2px;top:1123.6px"></div>
<div class="dot dr" style="left:2136.5px;top:1123.6px"></div>
<div class="a nb" style="right:938.3px;top:1122.5px">350</div>
<div class="a nr" style="left:2172.8px;top:1122.5px">520</div>
<div class="a" style="left:1414px;top:1208.0px;font-size:26px;line-height:30px;color:#374151;letter-spacing:.5px;-webkit-text-stroke:.45px #374151">Wireless Headphones</div>
<div class="div" style="top:1266.1px"></div>
<div class="bar" style="left:2073.6px;top:1216.1px;width:75.9px"></div>
<div class="dot db" style="left:2060.6px;top:1210.6px"></div>
<div class="dot dr" style="left:2136.5px;top:1210.6px"></div>
<div class="a nb" style="right:822.9px;top:1209.5px">420</div>
<div class="a nr" style="left:2172.8px;top:1209.5px">500</div>
<div class="a" style="left:1414px;top:1295.0px;font-size:26px;line-height:30px;color:#374151;letter-spacing:.5px;-webkit-text-stroke:.45px #374151">Yoga Mat</div>
<div class="bar" style="left:1888.1px;top:1303.1px;width:261.4px"></div>
<div class="dot db" style="left:1875.1px;top:1297.6px"></div>
<div class="dot dr" style="left:2136.5px;top:1297.6px"></div>
<div class="a nb" style="right:1008.4px;top:1296.5px">290</div>
<div class="a nr" style="left:2172.8px;top:1296.5px">500</div>
<svg class="a" style="left:0;top:0" width="2873" height="1350">
<defs>
<linearGradient id="g1" gradientUnits="userSpaceOnUse" x1="370" y1="360" x2="590" y2="510"><stop offset="0" stop-color="#57b69a" stop-opacity=".2"/><stop offset=".13" stop-color="#57b69a" stop-opacity=".36"/><stop offset=".33" stop-color="#57b69a" stop-opacity=".54"/><stop offset=".63" stop-color="#57b69a" stop-opacity=".7"/><stop offset=".81" stop-color="#57b69a" stop-opacity=".87"/><stop offset="1" stop-color="#57b69a" stop-opacity=".92"/></linearGradient>
<linearGradient id="g2" gradientUnits="userSpaceOnUse" x1="2170" y1="0" x2="2457" y2="0"><stop offset="0" stop-color="#57b69a" stop-opacity=".92"/><stop offset=".4" stop-color="#57b69a" stop-opacity=".9"/><stop offset=".8" stop-color="#57b69a" stop-opacity=".64"/><stop offset=".94" stop-color="#57b69a" stop-opacity=".5"/><stop offset="1" stop-color="#57b69a" stop-opacity=".33"/></linearGradient>
<linearGradient id="g3" gradientUnits="userSpaceOnUse" x1="2167" y1="0" x2="2600" y2="0"><stop offset="0" stop-color="#57b69a" stop-opacity=".92"/><stop offset=".08" stop-color="#57b69a" stop-opacity=".92"/><stop offset=".27" stop-color="#57b69a" stop-opacity=".72"/><stop offset=".48" stop-color="#57b69a" stop-opacity=".3"/><stop offset=".75" stop-color="#57b69a" stop-opacity=".12"/><stop offset="1" stop-color="#57b69a" stop-opacity="0"/></linearGradient>
</defs>
<path d="M370 360 V449 A60 60 0 0 0 430 509.3 H590" fill="none" stroke="url(#g1)" stroke-width="8.7"/>
<circle cx="589.7" cy="509.9" r="15" fill="#2db77f"/>
<path d="M2170 226.7 H2398 A58.8 58.8 0 0 1 2456.8 285.5 V310" fill="none" stroke="url(#g2)" stroke-width="9"/>
<circle cx="2170" cy="227.7" r="15" fill="#2db77f"/>
<path d="M2167 1096.6 H2600" fill="none" stroke="url(#g3)" stroke-width="8.7"/>
<circle cx="2167.2" cy="1096.3" r="14.9" fill="#2db77f"/>
</svg>
<div class="call" style="left:81px;top:118px;width:609px;height:242px;background:linear-gradient(80deg,#0d2d5c 0%,#47699a 100%)">
  <h2 style="left:43px;top:43px">Dynamic Narratives</h2>
  <p style="left:42px;top:114px;letter-spacing:1.1px">Replace static notes with dynamic<br>narratives tied to your actual data</p>
</div>
<div class="call" style="left:2142px;top:306px;width:650px;height:241px;background:linear-gradient(100deg,#47699b 0%,#0a2a57 88%)">
  <h2 style="left:44px;top:41px;letter-spacing:-.15px">Custom Dashboard Controls</h2>
  <p style="left:44px;top:115px;letter-spacing:1.2px">Design custom controls that<br>power your storytelling</p>
</div>
<div class="call" style="left:2229px;top:826px;width:561px;height:241px;background:linear-gradient(100deg,#47699b 0%,#0a2a57 88%)">
  <h2 style="left:49px;top:38.5px">Bespoke Visualizations</h2>
  <p style="left:51px;top:112.5px;letter-spacing:1.1px">Visualize data however you<br>want with Markdown + HTML</p>
</div>
</body></html>
